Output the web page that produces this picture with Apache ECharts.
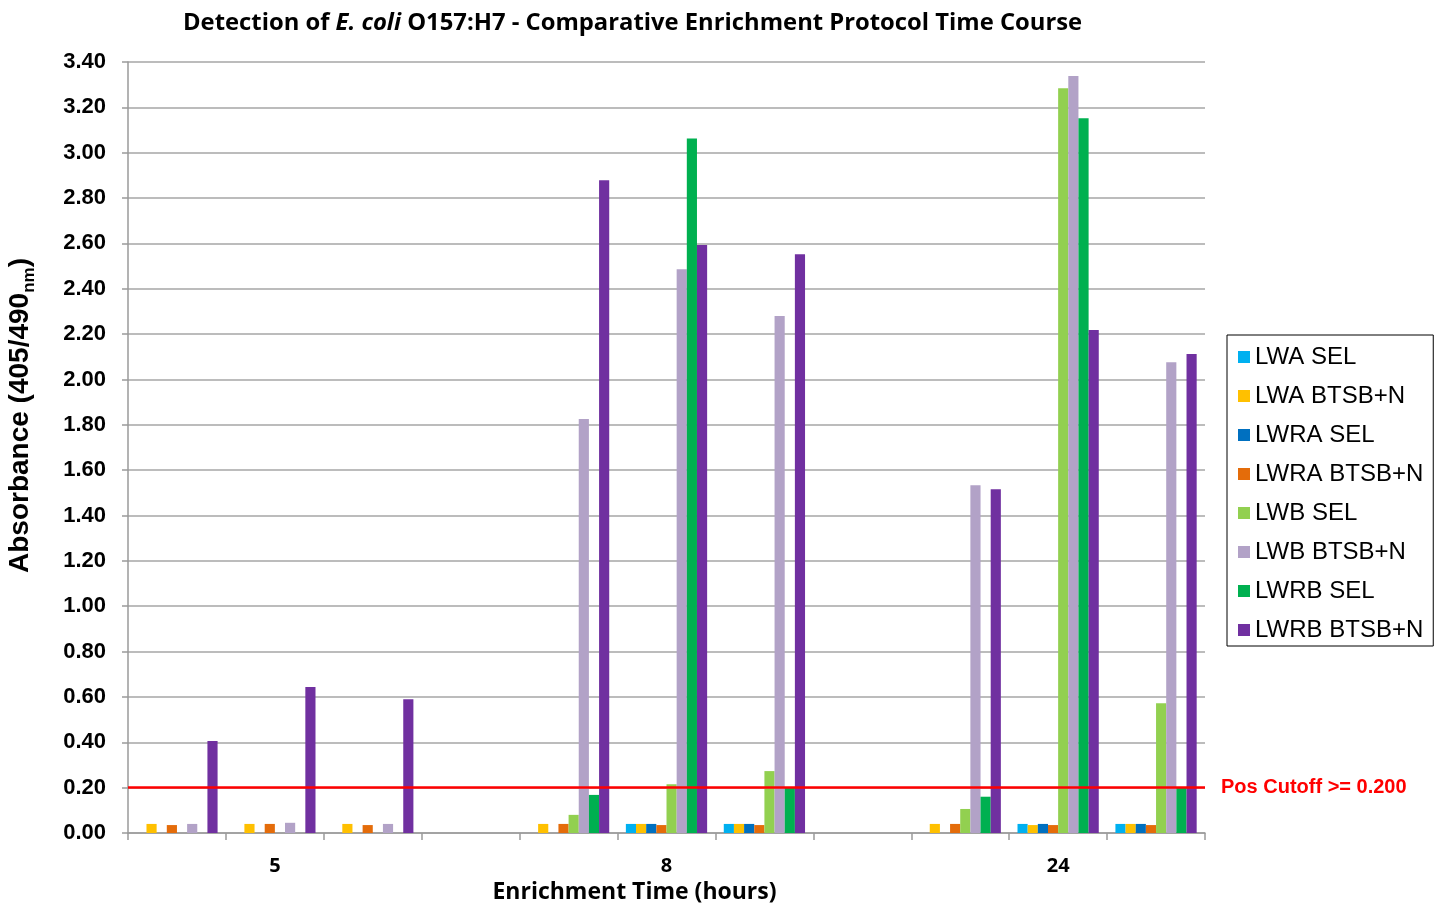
<!DOCTYPE html>
<html>
<head>
<meta charset="utf-8">
<script src="https://cdn.jsdelivr.net/npm/echarts@6/dist/echarts.min.js"></script>
<style>
  html, body { margin: 0; padding: 0; background: #fff; }
  #chart { width: 1435px; height: 909px; }
</style>
</head>
<body>
<div id="chart"></div>
<script>
// Slots on the category axis: three replicate runs per enrichment time, with an empty spacer between times
const slots = ['5-1', '5-2', '5-3', 'gap-1', '8-1', '8-2', '8-3', 'gap-2', '24-1', '24-2', '24-3'];
// Enrichment time label shown under the middle replicate of each group
const timeLabels = { '5-2': '5', '8-2': '8', '24-2': '24' };

const seriesNames = ['LWA SEL', 'LWA BTSB+N', 'LWRA SEL', 'LWRA BTSB+N', 'LWB SEL', 'LWB BTSB+N', 'LWRB SEL', 'LWRB BTSB+N'];

// Absorbance (405/490 nm) per slot; null = not tested
const lwaSel     = [null, null, null, null, null, 0.04, 0.04, null, null, 0.04, 0.04];
const lwaBtsb    = [0.04, 0.04, 0.04, null, 0.04, 0.04, 0.04, null, 0.04, 0.035, 0.04];
const lwraSel    = [null, null, null, null, null, 0.04, 0.04, null, null, 0.04, 0.04];
const lwraBtsb   = [0.035, 0.04, 0.035, null, 0.04, 0.035, 0.035, null, 0.04, 0.035, 0.035];
const lwbSel     = [null, null, null, null, 0.08, 0.215, 0.273, null, 0.106, 3.284, 0.572];
const lwbBtsb    = [0.04, 0.045, 0.04, null, 1.826, 2.486, 2.28, null, 1.533, 3.338, 2.076];
const lwrbSel    = [null, null, null, null, 0.168, 3.063, 0.2, null, 0.16, 3.152, 0.2];
const lwrbBtsb   = [0.406, 0.644, 0.59, null, 2.878, 2.593, 2.552, null, 1.516, 2.218, 2.112];

const seriesValues = [lwaSel, lwaBtsb, lwraSel, lwraBtsb, lwbSel, lwbBtsb, lwrbSel, lwrbBtsb];
const seriesColors = ['#00B0F0', '#FFC000', '#0070C0', '#E46C0A', '#92D050', '#B2A2C7', '#00B050', '#7030A0'];

// Positive cutoff for the assay
const cutoff = 0.2;
const cutoffLabel = 'Pos Cutoff >= 0.200';

const chart = echarts.init(document.getElementById('chart'), null, { renderer: 'canvas' });

const series = seriesNames.map((name, i) => ({
  name: name,
  type: 'bar',
  data: seriesValues[i],
  barGap: '0%',
  barCategoryGap: '17%',
  itemStyle: { color: seriesColors[i] },
  emphasis: { disabled: true },
  animation: false
}));

// The cutoff line rides on the last series
series[series.length - 1].markLine = {
  silent: true,
  symbol: ['none', 'none'],
  animation: false,
  lineStyle: { color: '#FF0000', width: 2.5, type: 'solid' },
  label: {
    show: true,
    position: 'end',
    distance: 16,
    formatter: cutoffLabel,
    color: '#FF0000',
    fontFamily: 'Liberation Sans, Arial, sans-serif',
    fontWeight: 'bold',
    fontSize: 20
  },
  data: [{ yAxis: cutoff }]
};

const option = {
  backgroundColor: '#ffffff',
  animation: false,
  title: {
    text: 'Detection of {i|E. coli} O157:H7 - Comparative Enrichment Protocol Time Course',
    left: 183,
    top: 11,
    padding: 0,
    textStyle: {
      fontFamily: 'Open Sans, sans-serif',
      fontWeight: 'bold',
      fontSize: 23.8,
      color: '#000',
      rich: {
        i: { fontFamily: 'Open Sans, sans-serif', fontWeight: 'bold', fontStyle: 'italic', fontSize: 23.8, color: '#000' }
      }
    }
  },
  legend: {
    orient: 'vertical',
    left: 1227,
    top: 335,
    padding: [10, 10, 4, 11],
    itemGap: 15,
    itemWidth: 12,
    itemHeight: 12,
    icon: 'rect',
    borderColor: '#000',
    borderWidth: 1,
    selectedMode: false,
    data: seriesNames,
    textStyle: {
      fontFamily: 'Liberation Sans, Arial, sans-serif',
      fontSize: 24,
      lineHeight: 24,
      color: '#000'
    }
  },
  grid: {
    left: 128,
    right: 230,
    top: 62,
    bottom: 76,
    containLabel: false,
    outerBoundsMode: 'none'
  },
  xAxis: {
    type: 'category',
    data: slots,
    name: 'Enrichment Time (hours)',
    nameLocation: 'middle',
    nameGap: 48,
    nameTextStyle: {
      fontFamily: 'Open Sans, sans-serif',
      fontWeight: 'bold',
      fontSize: 23,
      color: '#000',
      padding: [0, 64, 0, 0]
    },
    axisLine: { show: true, lineStyle: { color: '#9a9a9a', width: 1.5 } },
    axisTick: { show: true, interval: 0, length: 7, alignWithLabel: false, lineStyle: { color: '#9a9a9a', width: 1.5 } },
    axisLabel: {
      interval: 0,
      margin: 23,
      formatter: (v) => timeLabels[v] || '',
      fontFamily: 'Open Sans, sans-serif',
      fontWeight: 'bold',
      fontSize: 20,
      color: '#000'
    },
    splitLine: { show: false }
  },
  yAxis: {
    type: 'value',
    min: 0,
    max: 3.4,
    interval: 0.2,
    name: '{a|Absorbance (405/490}{s|nm}{a|)}',
    nameLocation: 'middle',
    nameGap: 90,
    nameTextStyle: {
      padding: [0, 0, 0, 64],
      rich: {
        a: { fontFamily: 'Liberation Sans, Arial, sans-serif', fontWeight: 'bold', fontSize: 28, lineHeight: 36, color: '#000' },
        s: { fontFamily: 'Liberation Sans, Arial, sans-serif', fontWeight: 'bold', fontSize: 17, lineHeight: 17, verticalAlign: 'bottom', color: '#000' }
      }
    },
    axisLine: { show: true, lineStyle: { color: '#9a9a9a', width: 1.5 } },
    axisTick: { show: true, length: 6, lineStyle: { color: '#9a9a9a', width: 1.5 } },
    axisLabel: {
      margin: 22,
      formatter: (v) => v.toFixed(2),
      fontFamily: 'Liberation Sans, Arial, sans-serif',
      fontWeight: 'bold',
      fontSize: 22,
      color: '#000'
    },
    splitLine: { show: true, lineStyle: { color: '#a6a6a6', width: 1.5 } }
  },
  series: series
};

chart.setOption(option);
</script>
</body>
</html>
